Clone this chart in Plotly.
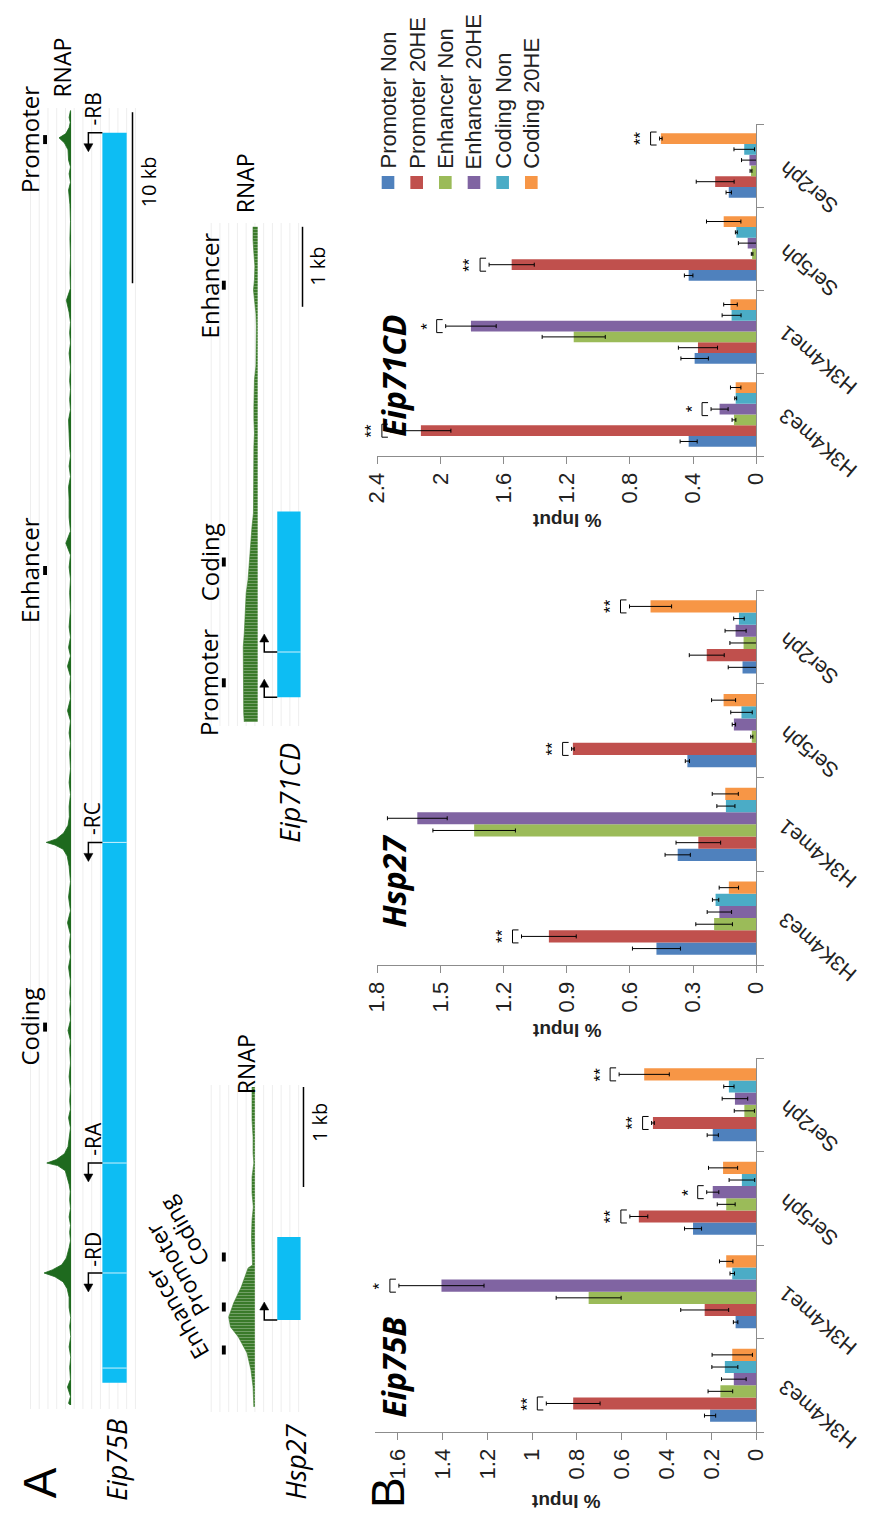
import plotly.graph_objects as go

W, H = 878, 1518

# ------------------------------------------------------------------ Panel B data
categories = ["H3K4me3", "H3K4me1", "Ser5ph", "Ser2ph"]
series_names = ["Promoter Non", "Promoter 20HE", "Enhancer Non",
                "Enhancer 20HE", "Coding Non", "Coding 20HE"]
series_colors = ["#4F81BD", "#C0504D", "#9BBB59", "#8064A2", "#4BACC6", "#F79646"]

# Eip75B (% input)
eip75b_prom_non = [0.206, 0.092, 0.282, 0.194]
eip75b_prom_20he = [0.817, 0.230, 0.524, 0.461]
eip75b_enh_non = [0.160, 0.748, 0.134, 0.053]
eip75b_enh_20he = [0.100, 1.405, 0.194, 0.095]
eip75b_cod_non = [0.140, 0.107, 0.064, 0.122]
eip75b_cod_20he = [0.107, 0.134, 0.148, 0.500]
eip75b_prom_non_err = [0.025, 0.010, 0.038, 0.025]
eip75b_prom_20he_err = [0.120, 0.107, 0.040, 0.006]
eip75b_enh_non_err = [0.055, 0.145, 0.040, 0.045]
eip75b_enh_20he_err = [0.055, 0.190, 0.027, 0.057]
eip75b_cod_non_err = [0.058, 0.010, 0.057, 0.023]
eip75b_cod_20he_err = [0.090, 0.030, 0.065, 0.112]
eip75b_ticks = [0, 0.2, 0.4, 0.6, 0.8, 1, 1.2, 1.4, 1.6]
eip75b_tick_text = ["0", "0.2", "0.4", "0.6", "0.8", "1", "1.2", "1.4", "1.6"]
eip75b_sig_cat = [0, 1, 2, 2, 3, 3]
eip75b_sig_series = [1, 3, 1, 3, 1, 5]
eip75b_sig_text = ["**", "*", "**", "*", "**", "**"]

# Hsp27
hsp27_prom_non = [0.474, 0.373, 0.327, 0.065]
hsp27_prom_20he = [0.985, 0.275, 0.871, 0.235]
hsp27_enh_non = [0.200, 1.340, 0.021, 0.060]
hsp27_enh_20he = [0.175, 1.610, 0.106, 0.098]
hsp27_cod_non = [0.193, 0.144, 0.070, 0.082]
hsp27_cod_20he = [0.130, 0.147, 0.155, 0.502]
hsp27_prom_non_err = [0.114, 0.060, 0.010, 0.068]
hsp27_prom_20he_err = [0.130, 0.106, 0.006, 0.083]
hsp27_enh_non_err = [0.087, 0.196, 0.005, 0.065]
hsp27_enh_20he_err = [0.058, 0.142, 0.008, 0.050]
hsp27_cod_non_err = [0.015, 0.043, 0.051, 0.025]
hsp27_cod_20he_err = [0.046, 0.062, 0.057, 0.100]
hsp27_ticks = [0, 0.3, 0.6, 0.9, 1.2, 1.5, 1.8]
hsp27_tick_text = ["0", "0.3", "0.6", "0.9", "1.2", "1.5", "1.8"]
hsp27_sig_cat = [0, 2, 3]
hsp27_sig_series = [1, 1, 5]
hsp27_sig_text = ["**", "**", "**"]

# Eip71CD
eip71cd_prom_non = [0.428, 0.390, 0.428, 0.174]
eip71cd_prom_20he = [2.124, 0.369, 1.549, 0.260]
eip71cd_enh_non = [0.141, 1.156, 0.026, 0.033]
eip71cd_enh_20he = [0.232, 1.807, 0.054, 0.043]
eip71cd_cod_non = [0.130, 0.156, 0.126, 0.076]
eip71cd_cod_20he = [0.130, 0.163, 0.206, 0.604]
eip71cd_prom_non_err = [0.054, 0.087, 0.027, 0.017]
eip71cd_prom_20he_err = [0.190, 0.124, 0.143, 0.120]
eip71cd_enh_non_err = [0.012, 0.200, 0.005, 0.006]
eip71cd_enh_20he_err = [0.054, 0.160, 0.059, 0.050]
eip71cd_cod_non_err = [0.006, 0.060, 0.006, 0.065]
eip71cd_cod_20he_err = [0.033, 0.043, 0.109, 0.008]
eip71cd_ticks = [0, 0.4, 0.8, 1.2, 1.6, 2, 2.4]
eip71cd_tick_text = ["0", "0.4", "0.8", "1.2", "1.6", "2", "2.4"]
eip71cd_sig_cat = [0, 0, 1, 2, 3]
eip71cd_sig_series = [1, 3, 3, 1, 5]
eip71cd_sig_text = ["**", "*", "*", "**", "**"]

# ------------------------------------------------------------------ Panel A data
# Eip75B locus (kb from the lower end of the displayed window)
eip75b_rnap_pos = [0.0, 0.1, 0.5, 1.05, 1.5, 2.2, 2.8, 3.4, 4.0, 4.6, 5.1, 5.7, 6.3, 6.8, 7.2, 7.5,
                   7.72, 7.9, 8.2, 8.6, 9.2, 9.6, 10.1, 10.5, 11.0, 11.5, 12.0, 12.5, 12.9, 13.3,
                   13.7, 14.0, 14.15, 14.35, 14.7, 15.1, 15.7, 16.2, 16.8, 17.3, 17.8, 18.5, 19.2,
                   20.0, 20.8, 21.3, 21.9, 22.5, 23.1, 23.6, 24.1, 24.8, 25.6, 26.2, 26.8, 27.5,
                   28.2, 28.9, 29.7, 30.6, 31.5, 32.1, 32.5, 32.75, 32.9, 33.1, 33.45, 33.9, 34.4,
                   35.0, 35.7, 36.4, 37.2, 38.1, 38.7, 39.3, 40.0, 40.6, 41.3, 42.0, 42.6, 43.2,
                   43.8, 44.3, 44.9, 45.5, 46.5, 47.5, 48.3, 49.0, 49.7, 50.4, 51.1, 51.9, 52.9,
                   53.7, 54.3, 54.9, 55.5, 56.0, 56.8, 57.6, 58.2, 58.8, 59.4, 59.9, 60.7, 61.5,
                   62.1, 62.7, 63.3, 63.9, 64.6, 65.3, 66.2, 67.2, 68.2, 69.2, 70.2, 71.05, 71.5,
                   72.0, 72.4, 72.8, 73.4, 73.8, 74.1, 74.35, 74.7, 75.0, 75.3, 75.7]
eip75b_rnap_sig = [4, 10, 3, 14, 3, 6, 2, 8, 2, 6, 2, 8, 8, 15, 30, 60,
                   100, 70, 35, 18, 8, 3, 6, 3, 8, 3, 6, 4, 8, 14,
                   22, 50, 90, 55, 25, 12, 8, 3, 10, 3, 6, 3, 8,
                   3, 6, 3, 12, 3, 6, 3, 6, 3, 10, 3, 8, 3,
                   14, 3, 10, 3, 8, 15, 30, 60, 92, 55, 28, 12, 7,
                   8, 3, 8, 3, 6, 3, 8, 3, 14, 3, 6, 3, 14,
                   3, 10, 3, 8, 3, 6, 3, 8, 3, 20, 3, 8, 8,
                   10, 3, 8, 3, 6, 8, 10, 3, 6, 3, 6, 3, 8,
                   3, 6, 3, 8, 18, 3, 5, 3, 5, 3, 5, 10, 3,
                   8, 3, 10, 12, 25, 45, 20, 8, 4, 8, 3]
eip75b_gene = [1.3, 74.4]
eip75b_breaks = [2.16, 7.72, 14.15, 32.9]
eip75b_tss_labels = ["-RB", "-RC", "-RA", "-RD"]
eip75b_tss_pos = [74.4, 32.9, 14.15, 7.72]
eip75b_region_labels = ["Promoter", "Enhancer", "Coding"]
eip75b_region_pos = [74.0, 48.8, 22.1]
eip75b_scale = [65.6, 10.0]      # start (kb), length (kb)

# Hsp27 locus
hsp27_rnap_pos = [0.01, 0.21, 0.38, 0.55, 0.71, 0.81, 0.91, 1.05, 1.21, 1.40, 1.43, 1.55, 1.71,
                  1.88, 2.01, 2.15, 2.31, 2.45, 2.55, 2.71, 2.88, 3.05, 3.21]
hsp27_rnap_sig = [4, 7, 15, 30, 63, 93, 100, 81, 52, 26, 9, 11, 13,
                  11, 6, 11, 11, 4, 7, 7, 11, 11, 11]
hsp27_gene = [0.88, 1.71]
hsp27_tss_pos = [0.88]
hsp27_region_labels = ["Enhancer", "Promoter", "Coding"]
hsp27_region_pos = [0.58, 1.01, 1.51]
hsp27_scale = [2.21, 1.0]

# Eip71CD locus
eip71cd_rnap_pos = [6.19, 6.03, 5.86, 5.70, 5.53, 5.40, 5.28, 5.11, 4.95, 4.78, 4.61, 4.45, 4.28,
                    4.11, 3.95, 3.78, 3.61, 3.45, 3.28, 3.11, 2.95, 2.78, 2.61, 2.44, 2.28, 2.11,
                    1.94, 1.78, 1.61, 1.44, 1.28, 1.11, 0.94, 0.78, 0.61, 0.44, 0.28, 0.11, 0.0]
eip71cd_rnap_sig = [33, 33, 27, 20, 23, 30, 23, 13, 10, 10, 10, 13, 23,
                    27, 27, 27, 23, 27, 27, 27, 27, 27, 30, 40, 47, 53,
                    60, 67, 80, 83, 87, 93, 100, 100, 100, 100, 100, 97, 93]
eip71cd_gene = [0.31, 2.63]
eip71cd_breaks = [0.875]
eip71cd_tss_pos = [0.31, 0.875]
eip71cd_region_labels = ["Enhancer", "Coding", "Promoter"]
eip71cd_region_pos = [5.46, 2.0, 0.49]
eip71cd_scale = [5.19, 1.0]

# ------------------------------------------------------------------ helpers
def dx(a, b):
    return [a / W, b / W]

def dy(top, bottom):
    return [1 - bottom / H, 1 - top / H]

def px(x):
    return x / W

def py(y):
    return 1 - y / H

BAR_FONT = "Liberation Sans, Arial, sans-serif"
A_FONT = "Open Sans, DejaVu Sans, sans-serif"
GENE_BLUE = "#0DBDF3"
DARK_GREEN = "#1E6A1E"
HATCH_GREEN = "#3A7A2A"
AXIS_GRAY = "#8C8C8C"

fig = go.Figure()
shapes = []
annotations = []

def paper_text(x, y, text, size, family, angle=-90, color="black"):
    annotations.append(dict(x=px(x), y=py(y), xref="paper", yref="paper",
                            xanchor="center", yanchor="middle", text=text,
                            textangle=angle, showarrow=False,
                            font=dict(family=family, size=size, color=color)))

BARGAP = 0.22
NSER = len(series_names)
BW = (1 - BARGAP) / NSER

def bar_offset(i):
    return -(1 - BARGAP) / 2 + BW * (i + 0.5)

charts = [
    dict(title="Eip71CD", xa="x", ya="y", xdom=(375, 765), ydom=(124, 456), xmax=2.4,
         vals=[eip71cd_prom_non, eip71cd_prom_20he, eip71cd_enh_non, eip71cd_enh_20he,
               eip71cd_cod_non, eip71cd_cod_20he],
         errs=[eip71cd_prom_non_err, eip71cd_prom_20he_err, eip71cd_enh_non_err,
               eip71cd_enh_20he_err, eip71cd_cod_non_err, eip71cd_cod_20he_err],
         ticks=eip71cd_ticks, ticktext=eip71cd_tick_text,
         sig=(eip71cd_sig_cat, eip71cd_sig_series, eip71cd_sig_text),
         title_pos=(391, 376), input_y=521),
    dict(title="Hsp27", xa="x2", ya="y2", xdom=(375, 765), ydom=(590, 965), xmax=1.8,
         vals=[hsp27_prom_non, hsp27_prom_20he, hsp27_enh_non, hsp27_enh_20he,
               hsp27_cod_non, hsp27_cod_20he],
         errs=[hsp27_prom_non_err, hsp27_prom_20he_err, hsp27_enh_non_err,
               hsp27_enh_20he_err, hsp27_cod_non_err, hsp27_cod_20he_err],
         ticks=hsp27_ticks, ticktext=hsp27_tick_text,
         sig=(hsp27_sig_cat, hsp27_sig_series, hsp27_sig_text),
         title_pos=(391, 881), input_y=1031),
    dict(title="Eip75B", xa="x3", ya="y3", xdom=(373, 765), ydom=(1058, 1432), xmax=1.7,
         vals=[eip75b_prom_non, eip75b_prom_20he, eip75b_enh_non, eip75b_enh_20he,
               eip75b_cod_non, eip75b_cod_20he],
         errs=[eip75b_prom_non_err, eip75b_prom_20he_err, eip75b_enh_non_err,
               eip75b_enh_20he_err, eip75b_cod_non_err, eip75b_cod_20he_err],
         ticks=eip75b_ticks, ticktext=eip75b_tick_text,
         sig=(eip75b_sig_cat, eip75b_sig_series, eip75b_sig_text),
         title_pos=(391, 1367), input_y=1502),
]

cat_idx = list(range(len(categories)))
layout_axes = {}

for c in charts:
    xa, ya = c["xa"], c["ya"]
    for s in range(NSER):
        fig.add_trace(go.Bar(
            x=c["vals"][s], y=cat_idx, orientation="h", name=series_names[s],
            marker=dict(color=series_colors[s], line=dict(width=0)),
            error_x=dict(type="data", array=c["errs"][s], color="black",
                         thickness=1, width=2),
            xaxis=xa, yaxis=ya, showlegend=False, hoverinfo="skip"))
    xkey = "xaxis" + xa[1:]
    ykey = "yaxis" + ya[1:]
    layout_axes[xkey] = dict(
        domain=dx(*c["xdom"]), anchor=ya, range=[c["xmax"], 0], autorange=False,
        showline=True, linecolor=AXIS_GRAY, linewidth=1, ticks="outside", ticklen=7,
        tickcolor=AXIS_GRAY, tickvals=c["ticks"], ticktext=c["ticktext"], tickangle=-90,
        tickfont=dict(family=BAR_FONT, size=22, color="#222"), showgrid=False,
        zeroline=False, fixedrange=True)
    layout_axes[ykey] = dict(
        domain=dy(*c["ydom"]), anchor=xa, side="right", range=[-0.5, 3.5],
        autorange=False, showline=True, linecolor=AXIS_GRAY, linewidth=1,
        ticks="outside", ticklen=7, tickcolor=AXIS_GRAY,
        tickvals=[-0.5, 0.5, 1.5, 2.5, 3.5], showticklabels=False, showgrid=False,
        zeroline=False, fixedrange=True)
    # category labels
    for ci, cat in enumerate(categories):
        annotations.append(dict(
            x=1, xref=xa + " domain", xshift=16, xanchor="left",
            y=ci, yref=ya, yshift=12, yanchor="top",
            text=cat, textangle=-140, showarrow=False,
            font=dict(family=BAR_FONT, size=21, color="#222")))
    # significance brackets and stars
    for ci, si, txt in zip(*c["sig"]):
        xend = c["vals"][si][ci] + c["errs"][si][ci]
        ypos = ci + bar_offset(si)
        shapes.append(dict(
            type="path", xref=xa, yref=ya, xsizemode="pixel", ysizemode="pixel",
            xanchor=xend, yanchor=ypos, path="M -3,-6.5 L -9,-6.5 L -9,6.5 L -3,6.5",
            line=dict(color="black", width=1)))
        annotations.append(dict(
            x=xend, xref=xa, xshift=-19, y=ypos, yref=ya, text=txt, textangle=-90,
            xanchor="center", yanchor="middle",
            showarrow=False, font=dict(family=BAR_FONT, size=17, color="black")))
    # chart title
    tx, ty = c["title_pos"]
    paper_text(tx, ty, "<b><i>%s</i></b>" % c["title"], 32, A_FONT)
    # value axis title
    mid = (c["xdom"][0] + c["xdom"][1]) / 2
    paper_text(mid, c["input_y"], "<b>% Input</b>", 19, BAR_FONT, angle=180, color="#222")

# legend (rotated)
for i, name in enumerate(series_names):
    cx = 386 + 29.5 * i
    shapes.append(dict(type="rect", xref="paper", yref="paper",
                       x0=px(cx - 6.5), x1=px(cx + 6.5), y0=py(189), y1=py(176),
                       fillcolor=series_colors[i], line=dict(width=0)))
    annotations.append(dict(x=px(cx), y=py(171), xref="paper", yref="paper",
                            xanchor="center", yanchor="bottom", text=name, textangle=-90,
                            showarrow=False, font=dict(family=BAR_FONT, size=22, color="#222")))

# panel letter B
paper_text(386, 1493, "B", 46, BAR_FONT)

# ------------------------------------------------------------------ Panel A tracks
tracks = [
    dict(name="Eip75B", xa="x4", ya="y4", xdom=(11, 60), ydom=(110, 1405), yrange=[0, 75.73],
         xrange=[175, 0], pos=eip75b_rnap_pos, sig=eip75b_rnap_sig, hatch=False,
         gene=eip75b_gene, gene_x=(92, 117), breaks=eip75b_breaks,
         region_labels=eip75b_region_labels, region_pos=eip75b_region_pos,
         label_x=17, marker_x=33, label_angle=-90,
         scale=eip75b_scale, scale_x=123, scale_frac=0.59, scale_text="10 kb", scale_text_x=139,
         rnap=(50, 68), gene_label=(106, 1460), grid=(18, 126)),
    dict(name="Hsp27", xa="x5", ya="y5", xdom=(201, 249), ydom=(1087, 1408), yrange=[0, 3.21],
         xrange=[177.8, 0], pos=hsp27_rnap_pos, sig=hsp27_rnap_sig, hatch=True,
         gene=hsp27_gene, gene_x=(272, 296), breaks=[],
         region_labels=hsp27_region_labels, region_pos=hsp27_region_pos,
         label_x=None, marker_x=217, label_angle=-120,
         scale=hsp27_scale, scale_x=299, scale_frac=0.64, scale_text="1 kb", scale_text_x=315,
         rnap=(240, 1064), gene_label=(290, 1462), grid=(204, 296)),
    dict(name="Eip71CD", xa="x6", ya="y6", xdom=(209, 252), ydom=(225, 722), yrange=[0, 6.2125],
         xrange=[287, 0], pos=eip71cd_rnap_pos, sig=eip71cd_rnap_sig, hatch=True,
         gene=eip71cd_gene, gene_x=(272, 296), breaks=eip71cd_breaks,
         region_labels=eip71cd_region_labels, region_pos=eip71cd_region_pos,
         label_x=202, marker_x=217, label_angle=-90,
         scale=eip71cd_scale, scale_x=298, scale_frac=0.5, scale_text="1 kb", scale_text_x=314,
         rnap=(239, 183), gene_label=(284, 793), grid=(204, 296)),
]

for t in tracks:
    xa, ya = t["xa"], t["ya"]
    xkey = "xaxis" + xa[1:]
    ykey = "yaxis" + ya[1:]
    layout_axes[xkey] = dict(domain=dx(*t["xdom"]), anchor=ya, range=t["xrange"],
                             autorange=False, visible=False, fixedrange=True)
    layout_axes[ykey] = dict(domain=dy(*t["ydom"]), anchor=xa, range=t["yrange"],
                             autorange=False, visible=False, fixedrange=True)
    # faint browser grid lines
    top, bottom = t["ydom"]
    gx0, gx1 = t["grid"]
    gx = gx0
    while gx <= gx1:
        shapes.append(dict(type="line", xref="paper", yref="paper", x0=px(gx), x1=px(gx),
                           y0=py(bottom + 4), y1=py(top - 2), layer="below",
                           line=dict(color="#EEEEEE", width=1)))
        gx += 9
    # RNAP signal
    if t["hatch"]:
        fig.add_trace(go.Scatter(
            x=t["sig"], y=t["pos"], xaxis=xa, yaxis=ya, mode="lines", fill="tozerox",
            line=dict(color=HATCH_GREEN, width=0.6), fillcolor=HATCH_GREEN,
            fillpattern=dict(shape="-", bgcolor=HATCH_GREEN, fgcolor="rgba(255,255,255,0.75)",
                             size=3, solidity=0.25),
            showlegend=False, hoverinfo="skip"))
    else:
        fig.add_trace(go.Scatter(
            x=t["sig"], y=t["pos"], xaxis=xa, yaxis=ya, mode="lines", fill="tozerox",
            line=dict(color=DARK_GREEN, width=0.8), fillcolor=DARK_GREEN,
            showlegend=False, hoverinfo="skip"))
    # gene model
    g0, g1 = t["gene_x"]
    shapes.append(dict(type="rect", xref="paper", yref=ya, x0=px(g0), x1=px(g1),
                       y0=t["gene"][0], y1=t["gene"][1], fillcolor=GENE_BLUE,
                       line=dict(width=0)))
    for b in t["breaks"]:
        shapes.append(dict(type="line", xref="paper", yref=ya, x0=px(g0), x1=px(g1),
                           y0=b, y1=b, line=dict(color="rgba(255,255,255,0.8)", width=1)))
    # region markers and labels
    for lab, pos in zip(t["region_labels"], t["region_pos"]):
        shapes.append(dict(type="rect", xref="paper", yref=ya, ysizemode="pixel",
                           yanchor=pos, y0=-4.5, y1=4.5,
                           x0=px(t["marker_x"] - 2), x1=px(t["marker_x"] + 2),
                           fillcolor="black", line=dict(width=0)))
        if t["label_x"] is not None:
            annotations.append(dict(x=px(t["label_x"]), xref="paper", y=pos, yref=ya,
                                    xanchor="center", yanchor="middle",
                                    text=lab, textangle=-90, showarrow=False,
                                    font=dict(family=A_FONT, size=24, color="black")))
        else:
            annotations.append(dict(x=px(t["marker_x"] - 5), xref="paper", y=pos, yref=ya,
                                    xanchor="right", yanchor="bottom", yshift=-18,
                                    text=lab, textangle=t["label_angle"], showarrow=False,
                                    font=dict(family=A_FONT, size=23, color="black")))
    # scale bar
    s0, slen = t["scale"]
    shapes.append(dict(type="line", xref="paper", yref=ya, x0=px(t["scale_x"]),
                       x1=px(t["scale_x"]), y0=s0, y1=s0 + slen,
                       line=dict(color="black", width=1.5)))
    annotations.append(dict(x=px(t["scale_text_x"]), xref="paper",
                            y=s0 + slen * t["scale_frac"], yref=ya,
                            xanchor="center", yanchor="middle",
                            text=t["scale_text"], textangle=-90, showarrow=False,
                            font=dict(family=A_FONT, size=20, color="black")))
    # RNAP track label
    rx, ry = t["rnap"]
    paper_text(rx, ry, "RNAP", 23, A_FONT)
    # gene name
    gx_, gy_ = t["gene_label"]
    paper_text(gx_, gy_, "<i>%s</i>" % t["name"], 27, A_FONT)

# TSS arrows: Eip75B (minus strand, arrows point down)
for lab, pos in zip(eip75b_tss_labels, eip75b_tss_pos):
    shapes.append(dict(type="path", xref="paper", yref="y4", xsizemode="pixel",
                       ysizemode="pixel", xanchor=px(92), yanchor=pos,
                       path="M 0,0 L -14,0 L -14,-12", line=dict(color="black", width=1.5)))
    shapes.append(dict(type="path", xref="paper", yref="y4", xsizemode="pixel",
                       ysizemode="pixel", xanchor=px(92), yanchor=pos,
                       path="M -18.5,-11 L -9.5,-11 L -14,-19 Z", fillcolor="black",
                       line=dict(color="black", width=0.5)))
    annotations.append(dict(x=px(82), xref="paper", y=pos, yref="y4", yshift=24,
                            xanchor="center", yanchor="middle",
                            text=lab, textangle=-90, showarrow=False,
                            font=dict(family=A_FONT, size=21, color="black")))

# TSS arrows: Hsp27 and Eip71CD (plus strand, arrows point up)
for ya, tss_list in (("y5", hsp27_tss_pos), ("y6", eip71cd_tss_pos)):
    for pos in tss_list:
        shapes.append(dict(type="path", xref="paper", yref=ya, xsizemode="pixel",
                           ysizemode="pixel", xanchor=px(272), yanchor=pos,
                           path="M 0,0 L -13,0 L -13,11", line=dict(color="black", width=1.5)))
        shapes.append(dict(type="path", xref="paper", yref=ya, xsizemode="pixel",
                           ysizemode="pixel", xanchor=px(272), yanchor=pos,
                           path="M -17.5,10 L -8.5,10 L -13,18 Z", fillcolor="black",
                           line=dict(color="black", width=0.5)))

# panel letter A
paper_text(28, 1483, "A", 46, BAR_FONT)

fig.update_layout(
    width=W, height=H, margin=dict(l=0, r=0, t=0, b=0),
    paper_bgcolor="white", plot_bgcolor="rgba(0,0,0,0)",
    barmode="group", bargap=BARGAP, bargroupgap=0,
    showlegend=False, shapes=shapes, annotations=annotations,
    font=dict(family=BAR_FONT, color="black"),
    **layout_axes)

fig.write_html("out.html", config={"displayModeBar": False},
               post_script="document.body.style.margin='0px';")
